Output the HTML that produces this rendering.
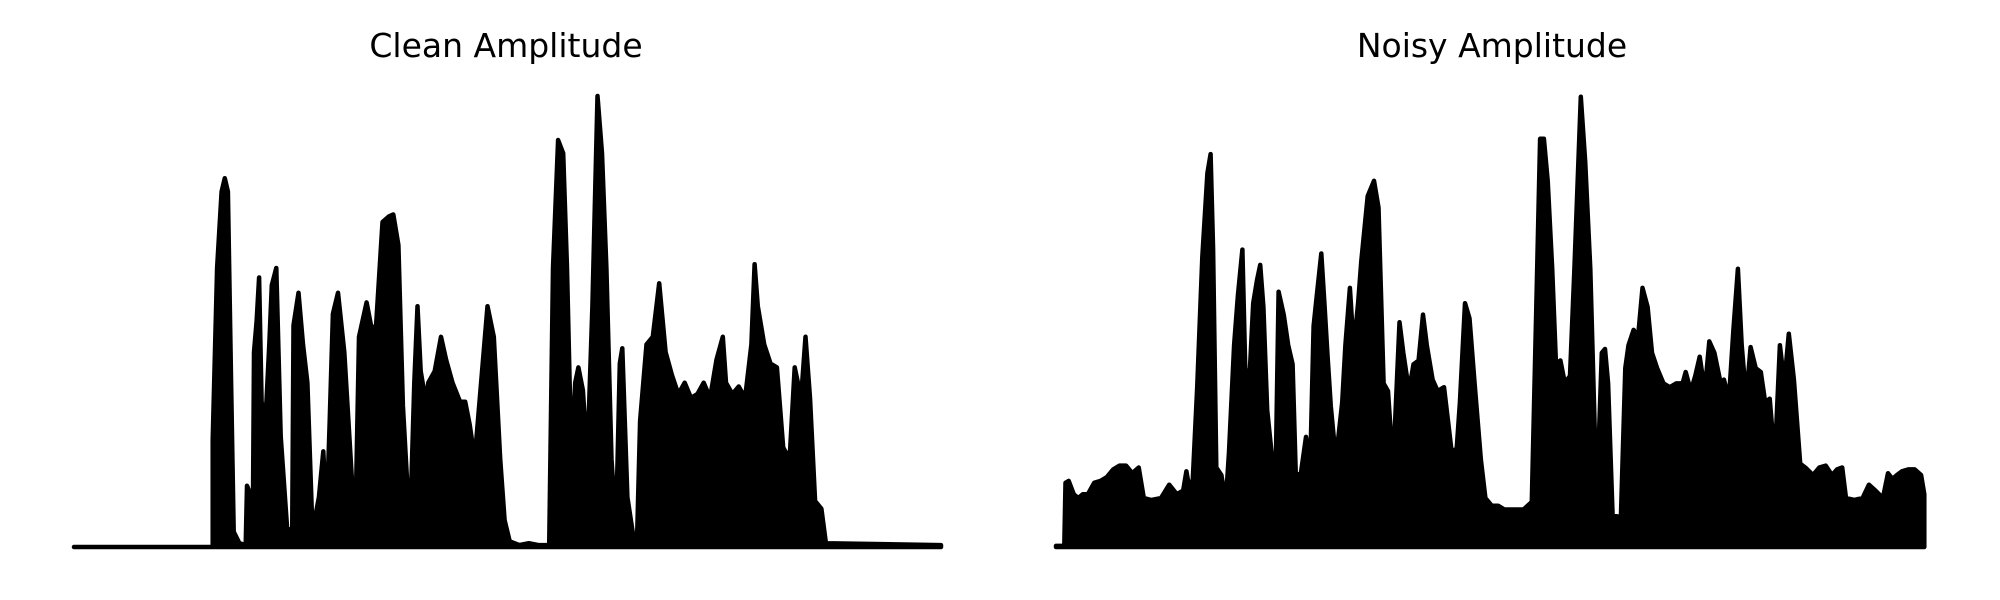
<!DOCTYPE html>
<html><head><meta charset="utf-8"><style>
html,body{margin:0;padding:0;background:#fff;}
svg{display:block;}
text{font-family:"DejaVu Sans","Liberation Sans",sans-serif;font-size:33px;fill:#000;}
</style></head><body>
<svg id="chart" width="2000" height="600" viewBox="0 0 2000 600">
<text x="506" y="57" text-anchor="middle">Clean Amplitude</text>
<text x="1492" y="57" text-anchor="middle">Noisy Amplitude</text>
<g id="clean"></g>
<g id="noisy"></g>
</svg>
<script>
const cleanTime=[0,218,218,225,232,237,242,247,251,260,270,272,277,281,283,287,291,295,301,307,311,318,325,335,343,345,353,360,367,375,385,392,397,402,407,415,425,435,442,448,460,468,475,485,495,502,510,517,528,535,540,545,553,557,567,577,585,595,607,615,622,630,640,650,660,670,677,685,700,715,730,747,753,761,769,775,782,788,793,800,807,815,823,830,837,845,852,858,862,870,880,885,890,900,910,920,930,940,950,960,970,980,990,1000,1010,1020,1025,1035,1045,1055,1065,1070,1075,1085,1095,1105,1115,1125,1133,1143,1150,1157,1165,1175,1182,1363];
const cleanAmp=[0,0,280,730,930,965,930,430,40,10,5,160,140,10,510,590,705,380,330,530,685,730,290,50,40,580,665,530,430,40,130,250,70,330,610,665,510,230,30,550,640,570,580,850,865,870,790,370,40,430,630,460,380,430,460,550,490,430,380,380,320,230,430,630,550,230,70,15,5,10,5,5,730,1065,1030,730,230,430,470,410,230,630,1180,1030,730,230,50,480,520,130,20,5,330,530,550,690,510,450,400,430,390,400,430,390,490,550,430,400,420,390,530,740,630,530,480,470,260,230,470,390,550,390,120,100,10,5];
const noisyTime=[0,13,15,20,28,35,42,50,60,70,80,90,100,110,120,130,138,150,165,178,190,200,205,210,215,222,230,238,243,247,252,260,267,272,280,286,293,298,305,310,316,321,326,332,340,345,350,358,365,372,377,385,393,400,405,410,417,422,427,432,440,450,455,462,468,475,480,490,500,507,515,522,530,540,546,555,562,570,577,583,592,600,610,622,630,635,643,650,658,668,675,685,695,705,720,735,748,755,761,767,773,780,786,793,800,808,815,825,832,840,850,858,863,868,875,888,895,900,908,915,922,930,937,945,955,965,975,985,990,998,1005,1012,1020,1027,1035,1045,1050,1058,1065,1072,1078,1085,1092,1100,1108,1115,1122,1130,1138,1145,1152,1160,1170,1178,1190,1200,1210,1220,1228,1236,1242,1255,1268,1278,1288,1300,1308,1315,1322,1330,1340,1350,1360,1365];
const noisyAmp=[3,3,168,173,138,128,138,138,168,173,183,203,213,213,193,208,128,123,128,163,138,148,198,148,178,418,758,978,1028,778,208,188,118,248,528,658,778,428,468,638,698,738,628,358,228,163,668,608,528,478,188,193,288,228,578,658,768,638,498,368,228,378,528,678,518,638,748,918,958,888,428,408,208,588,508,408,478,488,608,528,438,408,418,248,258,378,638,598,428,228,128,108,108,98,98,98,118,628,1068,1068,958,728,478,488,428,448,728,1178,1008,728,118,508,518,428,83,78,468,528,568,548,678,628,508,468,428,418,428,428,458,408,448,498,408,538,508,428,438,388,568,728,528,388,523,468,458,378,388,228,528,428,558,438,218,208,188,208,213,188,203,208,128,123,128,163,148,128,193,178,188,198,203,203,188,138];

const Y0=547, YTOP=96, AMAX=1180, TSPAN=1363, PW=867;
function yScale(a){return Y0-(a/AMAX)*(Y0-YTOP);}
function xScale(t,left){return left+(t/TSPAN)*PW;}
const NS='http://www.w3.org/2000/svg';
function draw(gid,times,amps,left,endT,name){
  const g=document.getElementById(gid);
  let d='M'+xScale(0,left)+','+Y0;
  for(let i=0;i<times.length;i++){d+=' L'+xScale(times[i],left).toFixed(1)+','+yScale(amps[i]).toFixed(1);}
  d+=' L'+xScale(endT,left).toFixed(1)+','+Y0+' Z';
  const p=document.createElementNS(NS,'path');
  p.setAttribute('d',d);
  p.setAttribute('fill','#000');
  p.setAttribute('stroke','#000');
  p.setAttribute('stroke-width','4.5');
  p.setAttribute('stroke-linejoin','round');
  p.setAttribute('stroke-linecap','round');
  
  
  g.appendChild(p);
}
draw('clean',cleanTime,cleanAmp,74,1363,'clean-waveform');
draw('noisy',noisyTime,noisyAmp,1056,1365,'noisy-waveform');
</script>
</body></html>
